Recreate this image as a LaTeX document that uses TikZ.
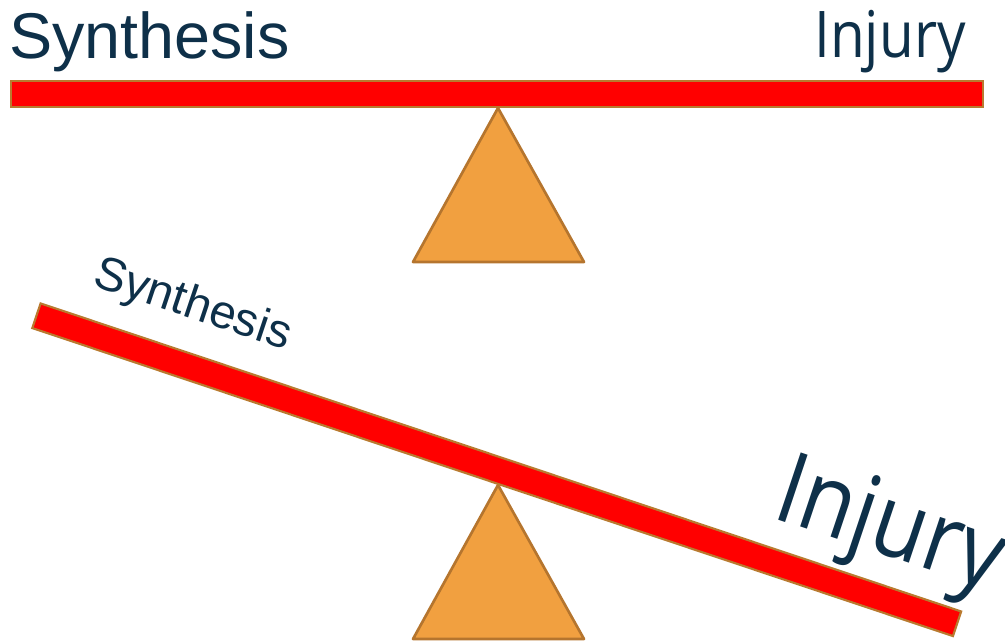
\documentclass[tikz,border=0pt]{standalone}
\usepackage{fontspec}
\setmainfont{Liberation Sans}
\newfontfamily\injuryfont[FakeStretch=0.88]{Open Sans}
\usepackage{xcolor}
\definecolor{beamred}{HTML}{FF0000}
\definecolor{beamedge}{HTML}{B97A2F}
\definecolor{pivotfill}{HTML}{F1A040}
\definecolor{pivotedge}{HTML}{B5752E}
\definecolor{labelink}{HTML}{0E3049}
\tikzset{
  beam/.style={fill=beamred,draw=beamedge,line width=1.6pt},
  pivot/.style={fill=pivotfill,draw=pivotedge,line width=2pt,line join=round},
  toplabel/.style={text=labelink,inner sep=0pt,font=\fontsize{48.5}{52}\selectfont},
  tiltlabel/.style={text=labelink,inner sep=0pt,rotate=-18.5}
}

\begin{document}
\begin{tikzpicture}[x=0.75pt,y=-0.75pt]
    \useasboundingbox (0,0) rectangle (1005,640);
    % balanced
    \draw[beam] (11,81) rectangle (983,107);
    \draw[pivot] (413,262) -- (498,108) -- (584,262) -- cycle;
    \node[toplabel,anchor=base west] (synthtop) at (9,58) {Synthesis};
    \node[toplabel,anchor=base east,font=\injuryfont\fontsize{48.3}{52}\selectfont]
      (injtop) at (966,57) {Injury};
    % tipped
    \draw[pivot] (413,639) -- (498,485) -- (584,639) -- cycle;
    \begin{scope}[shift={(496.75,469.75)},rotate=-18.5]
      \draw[beam] (-485.4,-13) rectangle (485.4,13);
    \end{scope}
    \node[tiltlabel,anchor=base west,font=\fontsize{35.5}{38}\selectfont]
      (synthtilt) at (91,285) {Synthesis};
    \node[tiltlabel,anchor=base west,font=\injuryfont\fontsize{74.6}{78}\selectfont]
      (injtilt) at (770,517) {Injury};
\end{tikzpicture}
\end{document}
